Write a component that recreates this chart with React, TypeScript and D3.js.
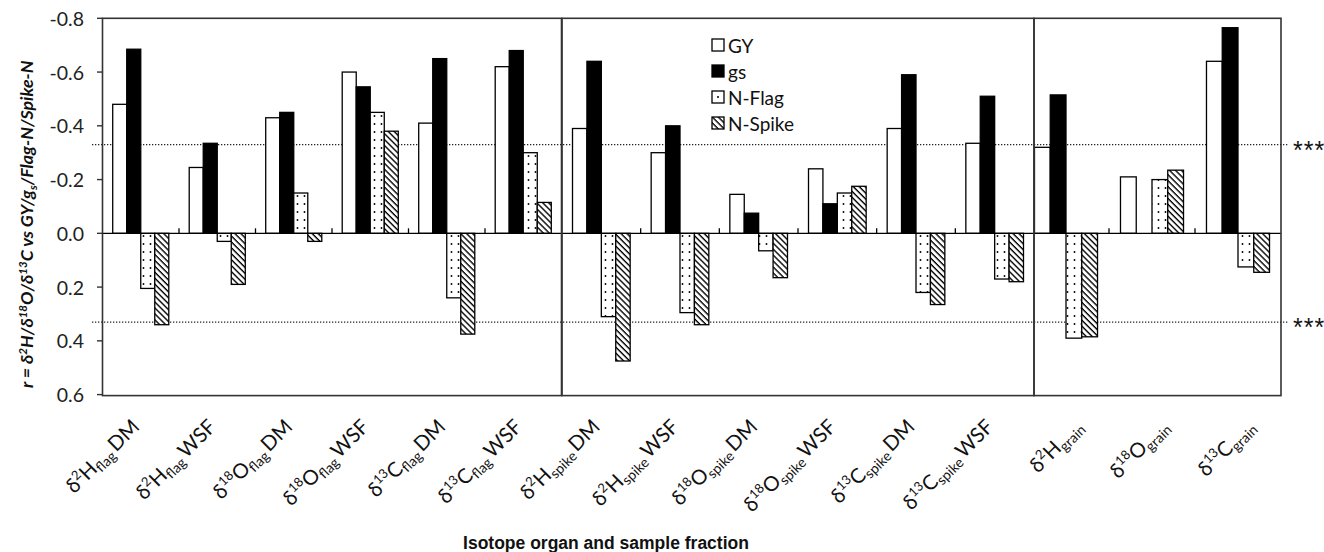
import React from "react";
import * as d3 from "d3";

// ---------- data ----------
const categories = [
  "d2H flag DM", "d2H flag WSF", "d18O flag DM", "d18O flag WSF", "d13C flag DM", "d13C flag WSF",
  "d2H spike DM", "d2H spike WSF", "d18O spike DM", "d18O spike WSF", "d13C spike DM", "d13C spike WSF",
  "d2H grain", "d18O grain", "d13C grain",
];
const isoMass = ["2", "2", "18", "18", "13", "13", "2", "2", "18", "18", "13", "13", "2", "18", "13"];
const isoElem = ["H", "H", "O", "O", "C", "C", "H", "H", "O", "O", "C", "C", "H", "O", "C"];
const organ = ["flag", "flag", "flag", "flag", "flag", "flag", "spike", "spike", "spike", "spike", "spike", "spike", "grain", "grain", "grain"];
const fraction = ["DM", "WSF", "DM", "WSF", "DM", "WSF", "DM", "WSF", "DM", "WSF", "DM", "WSF", "", "", ""];
const panelOf = [0, 0, 0, 0, 0, 0, 1, 1, 1, 1, 1, 1, 2, 2, 2];

const seriesNames = ["GY", "gs", "N-Flag", "N-Spike"];
const gyValues = [-0.48, -0.245, -0.43, -0.6, -0.41, -0.62, -0.39, -0.3, -0.145, -0.24, -0.39, -0.335, -0.32, -0.21, -0.64];
const gsValues = [-0.685, -0.335, -0.45, -0.545, -0.65, -0.68, -0.64, -0.4, -0.075, -0.11, -0.59, -0.51, -0.515, 0, -0.765];
const nFlagValues = [0.205, 0.03, -0.15, -0.45, 0.24, -0.3, 0.31, 0.295, 0.065, -0.15, 0.22, 0.17, 0.39, -0.2, 0.125];
const nSpikeValues = [0.34, 0.19, 0.03, -0.38, 0.375, -0.115, 0.475, 0.34, 0.165, -0.175, 0.265, 0.18, 0.385, -0.235, 0.145];
const seriesValues = [gyValues, gsValues, nFlagValues, nSpikeValues];

const yTicks = [-0.8, -0.6, -0.4, -0.2, 0, 0.2, 0.4, 0.6];
const criticalR = [-0.33, 0.33];
const criticalLabel = "***";

// ---------- layout ----------
const W = 1324;
const H = 552;
const yTop = 18.3;
const yBottom = 394.6;
const panels = [
  { x0: 102.5, x1: 561.5, boxL: 102.5, boxR: 561.5, labelDx: 0 },
  { x0: 562, x1: 1034, boxL: 562, boxR: 1034, labelDx: 0 },
  { x0: 1023, x1: 1281, boxL: 1034, boxR: 1281, labelDx: 18 },
];
const groupFrac = 0.733;
const FONT = "Lato, 'Open Sans', 'DejaVu Sans', sans-serif";
const INK = "#111";

export default function App() {
  const y = d3.scaleLinear().domain([-0.8, 0.6]).range([yTop, yBottom]);
  const y0 = y(0);

  const panelScales = panels.map((p, pi) => {
    const cats = categories.filter((_, i) => panelOf[i] === pi);
    const band = d3.scaleBand<string>().domain(cats).range([p.x0, p.x1]).padding(0);
    const gw = band.step() * groupFrac;
    const inner = d3.scaleBand<string>().domain(seriesNames).range([0, gw]).padding(0);
    return { p, cats, band, gw, inner };
  });

  const fills = ["#fff", "#000", "url(#dots)", "url(#hatch)"];

  return (
    <svg
      width={W}
      height={H}
      style={{ position: "absolute", left: 0, top: 0, display: "block", background: "#fff" }}
      fontFamily={FONT}
    >
      <defs>
        <pattern id="dots" width="7" height="8" patternUnits="userSpaceOnUse">
          <rect width="7" height="8" fill="#fff" />
          <circle cx="3.5" cy="4" r="0.95" fill="#000" />
        </pattern>
        <pattern id="hatch" width="4.2" height="4.2" patternUnits="userSpaceOnUse" patternTransform="rotate(-45)">
          <rect width="4.2" height="4.2" fill="#fff" />
          <line x1="1" y1="-1" x2="1" y2="5.2" stroke="#000" strokeWidth="1.4" />
        </pattern>
      </defs>

      {/* dotted critical lines */}
      {criticalR.map((r) => (
        <g key={r}>
          <line x1={92} x2={1288} y1={y(r)} y2={y(r)} stroke="#222" strokeWidth={1.3} strokeDasharray="1.3 1.7" />
          <text x={1293} y={y(r) + 14} fontSize={25} fill={INK} fontFamily="'Liberation Sans', Arial, sans-serif" letterSpacing={1}>
            {criticalLabel}
          </text>
        </g>
      ))}

      {/* bars */}
      {panelScales.map(({ p, cats, band, gw, inner }, pi) => (
        <g key={pi}>
          {cats.map((c) => {
            const ci = categories.indexOf(c);
            const gx = (band(c) as number) + (band.step() - gw) / 2;
            return seriesNames.map((s, si) => {
              const v = seriesValues[si][ci];
              if (v === 0) return null;
              const yy = y(v);
              return (
                <rect
                  key={c + s}
                  x={gx + (inner(s) as number)}
                  width={inner.bandwidth()}
                  y={Math.min(yy, y0)}
                  height={Math.abs(yy - y0)}
                  fill={fills[si]}
                  stroke="#000"
                  strokeWidth={1.3}
                />
              );
            });
          })}
          {/* category boundary ticks on zero line */}
          {cats.slice(1).map((c) => (
            <line key={"t" + c} x1={band(c)} x2={band(c)} y1={y0 - 5} y2={y0} stroke="#000" strokeWidth={1.3} />
          ))}
        </g>
      ))}

      {/* zero line */}
      <line x1={panels[0].boxL} x2={panels[2].boxR} y1={y0} y2={y0} stroke="#000" strokeWidth={1.4} />

      {/* panel boxes */}
      {panels.map((p, i) => (
        <rect key={i} x={p.boxL} y={yTop} width={p.boxR - p.boxL} height={yBottom - yTop + 1} fill="none" stroke="#333" strokeWidth={1.6} />
      ))}

      {/* y axis ticks & labels */}
      {yTicks.map((t) => (
        <g key={t}>
          <line x1={97} x2={102.5} y1={y(t)} y2={y(t)} stroke="#333" strokeWidth={1.4} />
          <text x={84} y={y(t)} textAnchor="end" dominantBaseline="central" fontSize={19.5} fill="#222">
            {t.toFixed(1)}
          </text>
        </g>
      ))}

      {/* y axis title */}
      <text
        transform="translate(33,388) rotate(-90)"
        textAnchor="start"
        fontSize={17.8}
        fontWeight="bold"
        fontStyle="italic"
        fill={INK}
      >
        <tspan>r = δ</tspan>
        <tspan fontSize={11.5} dy={-6}>2</tspan>
        <tspan dy={6}>H/δ</tspan>
        <tspan fontSize={11.5} dy={-6}>18</tspan>
        <tspan dy={6}>O/δ</tspan>
        <tspan fontSize={11.5} dy={-6}>13</tspan>
        <tspan dy={6}>C vs GY/g</tspan>
        <tspan fontSize={11.5} dy={4}>s</tspan>
        <tspan dy={-4}>/Flag-N/Spike-N</tspan>
      </text>

      {/* x category labels */}
      {panelScales.map(({ p, cats, band }) =>
        cats.map((c) => {
          const ci = categories.indexOf(c);
          const cx = (band(c) as number) + band.step() / 2 + p.labelDx;
          return (
            <text
              key={"l" + c}
              transform={`translate(${cx},428) rotate(-45)`}
              textAnchor="end"
              fontSize={20.5}
              fill={INK}
            >
              <tspan>δ</tspan>
              <tspan fontSize={13} dy={-8}>{isoMass[ci]}</tspan>
              <tspan dy={8}>{isoElem[ci]}</tspan>
              <tspan fontSize={14} dy={4}>{organ[ci]}</tspan>
              {fraction[ci] ? <tspan dy={-4}>{"\u2009" + fraction[ci]}</tspan> : null}
            </text>
          );
        })
      )}

      {/* x axis title */}
      <text x={606} y={549} textAnchor="middle" fontSize={17.5} fontWeight="bold" fill={INK} fontFamily="'Liberation Sans', Arial, sans-serif">
        Isotope organ and sample fraction
      </text>

      {/* legend */}
      {seriesNames.map((s, i) => {
        const cy = 45 + i * 26;
        return (
          <g key={"lg" + s}>
            <rect x={712} y={cy - 6} width={12} height={12} fill={i === 2 ? "#fff" : fills[i]} stroke="#000" strokeWidth={1.3} />
            {i === 2 ? <circle cx={718} cy={cy} r={1} fill="#000" /> : null}
            <text x={728} y={cy} dominantBaseline="central" fontSize={19} fill={INK}>
              {s}
            </text>
          </g>
        );
      })}
    </svg>
  );
}
